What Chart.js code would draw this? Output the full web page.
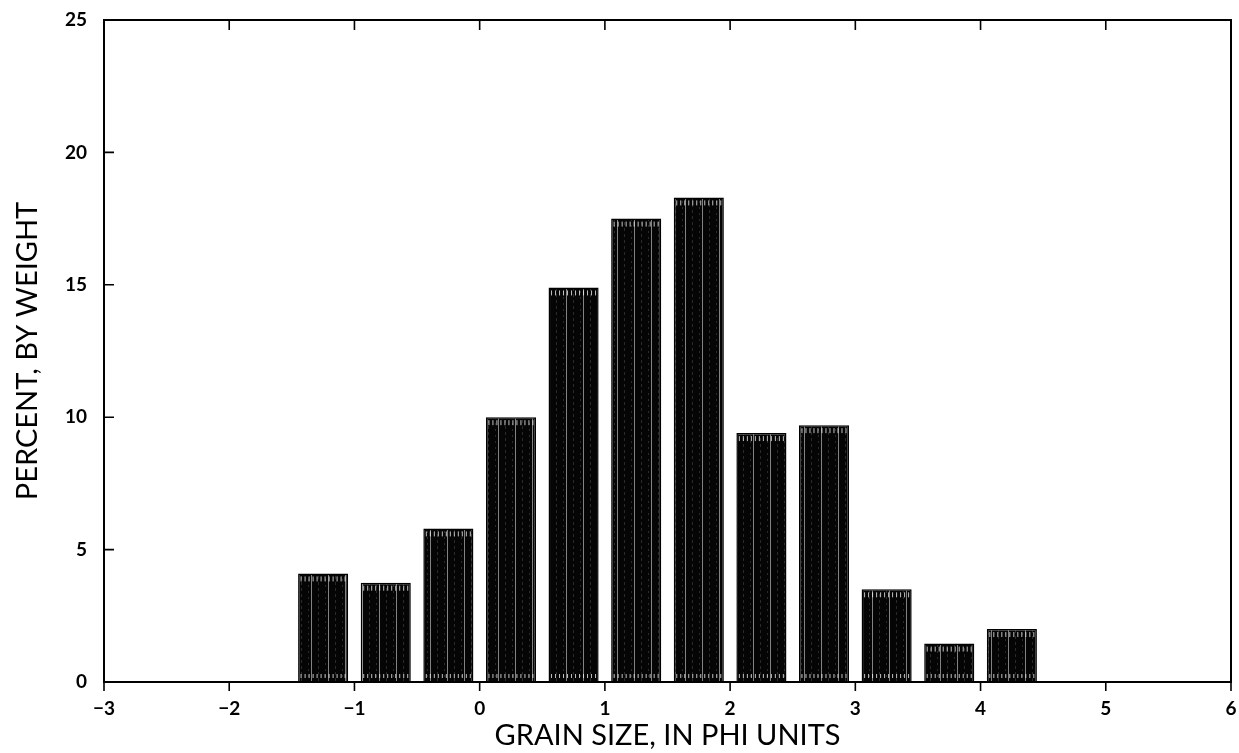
<!DOCTYPE html>
<html>
<head>
<meta charset="utf-8">
<script src="https://cdn.jsdelivr.net/npm/chart.js@4/dist/chart.umd.min.js"></script>
<style>
  body { margin: 0; background: #fff; }
  #wrap { width: 1239px; height: 753px; }
</style>
</head>
<body>
<div id="wrap"><canvas id="grainChart" width="1239" height="753"></canvas></div>
<script>
// bin centres (phi) and weight percent
const binCenters = [-1.25, -0.75, -0.25, 0.25, 0.75, 1.25, 1.75, 2.25, 2.75, 3.25, 3.75, 4.25];
const percentByWeight = [4.1, 3.75, 5.8, 10.0, 14.9, 17.5, 18.3, 9.4, 9.7, 3.5, 1.45, 2.0];
const xTickValues = [-3, -2, -1, 0, 1, 2, 3, 4, 5, 6];
const yTickValues = [0, 5, 10, 15, 20, 25];

const fontFamily = 'Lato, "DejaVu Sans", sans-serif';

// black fill with faint light vertical streaks, like the scanned print
function makeBarPattern() {
  const c = document.createElement('canvas');
  c.width = 17; c.height = 6;
  const g = c.getContext('2d');
  g.fillStyle = '#050505';
  g.fillRect(0, 0, c.width, c.height);
  g.fillStyle = 'rgba(255,255,255,0.5)';
  g.fillRect(5, 0, 1, 6);
  g.fillStyle = 'rgba(255,255,255,0.15)';
  g.fillRect(12, 0, 1, 3);
  g.fillRect(2, 3, 1, 2);
  return g.createPattern(c, 'repeat');
}

// frame round the plot plus tick marks (top & left ones point inwards)
const framePlugin = {
  id: 'frame',
  afterDatasetsDraw(chart) {
    const ctx = chart.ctx;
    // dashed light strips at the top and bottom of each bar
    chart.getDatasetMeta(0).data.forEach(bar => {
      const l = bar.x - bar.width / 2, r = bar.x + bar.width / 2;
      ctx.save();
      ctx.strokeStyle = 'rgba(255,255,255,0.75)';
      ctx.lineWidth = 1;
      for (let px = l + 3; px < r - 2; px += 4) {
        ctx.beginPath();
        ctx.moveTo(px, bar.y + 3);
        ctx.lineTo(px, bar.y + 8);
        ctx.moveTo(px, bar.base - 8);
        ctx.lineTo(px, bar.base - 4);
        ctx.stroke();
      }
      ctx.restore();
    });
  },
  afterDraw(chart) {
    const ctx = chart.ctx;
    const {left, right, top, bottom} = chart.chartArea;
    const xs = chart.scales.x, ys = chart.scales.y;
    ctx.save();
    ctx.strokeStyle = '#000';
    ctx.lineWidth = 2;
    ctx.strokeRect(left, top, right - left, bottom - top);
    ctx.lineWidth = 1.6;
    ctx.beginPath();
    xTickValues.forEach(v => {
      const px = xs.getPixelForValue(v);
      ctx.moveTo(px, bottom); ctx.lineTo(px, bottom + 9);
      ctx.moveTo(px, top); ctx.lineTo(px, top + 10);
    });
    yTickValues.forEach(v => {
      const py = ys.getPixelForValue(v);
      ctx.moveTo(left, py); ctx.lineTo(left + 10, py);
    });
    ctx.stroke();
    ctx.restore();
  }
};

const ctx = document.getElementById('grainChart').getContext('2d');
new Chart(ctx, {
  type: 'bar',
  data: {
    datasets: [{
      data: binCenters.map((x, i) => ({x: x, y: percentByWeight[i]})),
      backgroundColor: makeBarPattern(),
      borderColor: '#000',
      borderWidth: 1.5,
      barPercentage: 0.8,
      categoryPercentage: 1.0
    }]
  },
  options: {
    responsive: false,
    animation: false,
    layout: { padding: { left: 0, top: 20, right: 8, bottom: 0 } },
    plugins: { legend: { display: false }, tooltip: { enabled: false } },
    scales: {
      x: {
        type: 'linear',
        min: -3, max: 6,
        offset: false,
        afterFit(scale) {
          scale.height = 71;
          scale.paddingLeft = 0;
          scale.paddingRight = 0;
        },
        afterBuildTicks(scale) { scale.ticks = xTickValues.map(v => ({value: v})); },
        grid: { display: false, offset: false },
        border: { display: false },
        ticks: {
          color: '#000',
          padding: 7,
          font: { family: fontFamily, size: 19, weight: 'bold' },
          callback: v => (v < 0 ? '\u2212' + Math.abs(v) : String(v))
        },
        title: {
          display: true,
          text: 'GRAIN SIZE, IN PHI UNITS',
          color: '#000',
          padding: { top: 0, bottom: 0 },
          font: { family: fontFamily, size: 29 }
        }
      },
      y: {
        min: 0, max: 25,
        afterFit(scale) {
          scale.width = 104;
          scale.paddingTop = 0;
          scale.paddingBottom = 0;
        },
        afterBuildTicks(scale) { scale.ticks = yTickValues.map(v => ({value: v})); },
        grid: { display: false },
        border: { display: false },
        ticks: {
          color: '#000',
          padding: 9,
          font: { family: fontFamily, size: 19, weight: 'bold' }
        },
        title: {
          display: true,
          text: 'PERCENT, BY WEIGHT',
          color: '#000',
          padding: { top: 10, bottom: 0 },
          font: { family: fontFamily, size: 29 }
        }
      }
    }
  },
  plugins: [framePlugin]
});
</script>
</body>
</html>
